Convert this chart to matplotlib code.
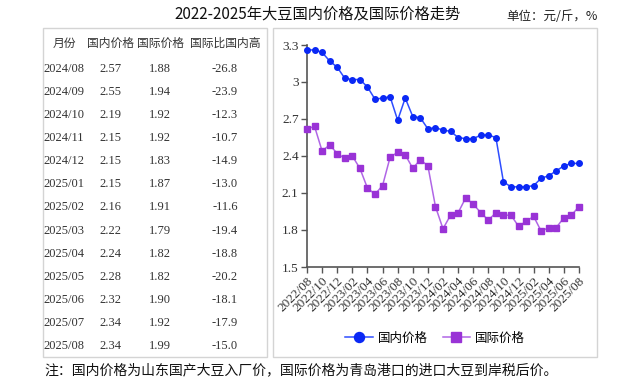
import numpy as np
import pandas as pd
import matplotlib
matplotlib.use("Agg")
import matplotlib.pyplot as plt
from matplotlib.patches import Rectangle

plt.rcParams['font.family'] = ['Noto Sans CJK SC', 'DejaVu Sans']

months = list(pd.date_range("2022-08-01", periods=37, freq="MS").strftime("%Y/%m"))
domestic = [3.26, 3.26, 3.24, 3.17, 3.12, 3.03, 3.02, 3.02, 2.96, 2.86, 2.87, 2.88, 2.69,
            2.87, 2.72, 2.71, 2.62, 2.63, 2.61, 2.60, 2.55, 2.54, 2.54, 2.57, 2.57, 2.55,
            2.19, 2.15, 2.15, 2.15, 2.16, 2.22, 2.24, 2.28, 2.32, 2.34, 2.34]
international = [2.62, 2.64, 2.44, 2.49, 2.42, 2.38, 2.40, 2.30, 2.14, 2.09, 2.16, 2.39, 2.43,
                 2.41, 2.30, 2.37, 2.32, 1.99, 1.81, 1.92, 1.94, 2.06, 2.01, 1.94, 1.88, 1.94,
                 1.92, 1.92, 1.83, 1.87, 1.91, 1.79, 1.82, 1.82, 1.90, 1.92, 1.99]

table_months = months[-13:]
table_domestic = ["2.57", "2.55", "2.19", "2.15", "2.15", "2.15", "2.16", "2.22", "2.24",
                  "2.28", "2.32", "2.34", "2.34"]
table_intl = ["1.88", "1.94", "1.92", "1.92", "1.83", "1.87", "1.91", "1.79", "1.82",
              "1.82", "1.90", "1.92", "1.99"]
table_ratio = ["-26.8", "-23.9", "-12.3", "-10.7", "-14.9", "-13.0", "-11.6", "-19.4",
               "-18.8", "-20.2", "-18.1", "-17.9", "-15.0"]
headers = ["月份", "国内价格", "国际价格", "国际比国内高"]

W, H = 640, 385
fig = plt.figure(figsize=(6.4, 3.85), dpi=100)


def fx(px):
    return px / W


def fy(py):
    return 1 - py / H


# boxes around table and chart
for x0, x1 in [(43, 267), (273, 597)]:
    fig.patches.append(Rectangle((fx(x0), fy(357)), fx(x1 - x0), (357 - 28) / H,
                                 transform=fig.transFigure, fill=False,
                                 edgecolor="#d4d4d4", linewidth=1.0))

fig.text(fx(318), fy(14), "2022-2025年大豆国内价格及国际价格走势", fontsize=11,
         ha="center", va="center", color="#111111")
fig.text(fx(598), fy(16), "单位：元/斤，%", fontsize=9, ha="right", va="center",
         color="#222222")
fig.text(fx(44), fy(370), "注：国内价格为山东国产大豆入厂价，国际价格为青岛港口的进口大豆到岸税后价。",
         fontsize=10, ha="left", va="center", color="#111111")

# table
col_x = [64, 110, 160, 225]
for cx, h in zip(col_x, headers):
    fig.text(fx(cx), fy(43), h, fontsize=8.5, ha="center", va="center", color="#333333")
serif = ["Liberation Serif", "DejaVu Serif"]
for i in range(len(table_months)):
    yy = fy(69 + 23.08 * i)
    row = [table_months[i], table_domestic[i], table_intl[i], table_ratio[i]]
    for cx, v in zip(col_x, row):
        fig.text(fx(cx), yy, v, fontsize=9, ha="center", va="center",
                 family=serif, color="#333333")

# chart
ax = fig.add_axes([fx(307), fy(267), fx(579 - 307), (267 - 45) / H])
x = np.arange(len(months))
ax.plot(x, domestic, color="#2e4dff", linewidth=1.1, marker="o", markersize=4,
        markerfacecolor="#0a28f5", markeredgecolor="#0a28f5", label="国内价格",
        clip_on=False, zorder=3)
ax.plot(x, international, color="#b066e6", linewidth=1.1, marker="s", markersize=3.8,
        markerfacecolor="#9933d6", markeredgecolor="#9933d6", label="国际价格",
        clip_on=False, zorder=3)
ax.set_xlim(0, len(months) - 1)
ax.set_ylim(1.5, 3.3)
ax.set_yticks([1.5, 1.8, 2.1, 2.4, 2.7, 3.0, 3.3])
ax.set_yticklabels(["1.5", "1.8", "2.1", "2.4", "2.7", "3", "3.3"])
ax.set_xticks(x[::2])
ax.set_xticklabels(months[::2], rotation=45, ha="right", rotation_mode="anchor")
for lab in ax.get_xticklabels() + ax.get_yticklabels():
    lab.set_family(serif)
    lab.set_fontsize(9.5)
    lab.set_color("#333333")
for s in ["top", "right"]:
    ax.spines[s].set_visible(False)
for s in ["left", "bottom"]:
    ax.spines[s].set_color("#555555")
    ax.spines[s].set_linewidth(1.2)
ax.tick_params(axis="both", direction="out", length=4, width=1, color="#555555", pad=2)

fig.legend(loc="center", bbox_to_anchor=(fx(435), fy(338)), ncol=2, frameon=False,
           fontsize=9, handlelength=2.2, columnspacing=1.2, markerscale=1.8,
           handletextpad=0.4)

fig.savefig("out.png", dpi=100)
